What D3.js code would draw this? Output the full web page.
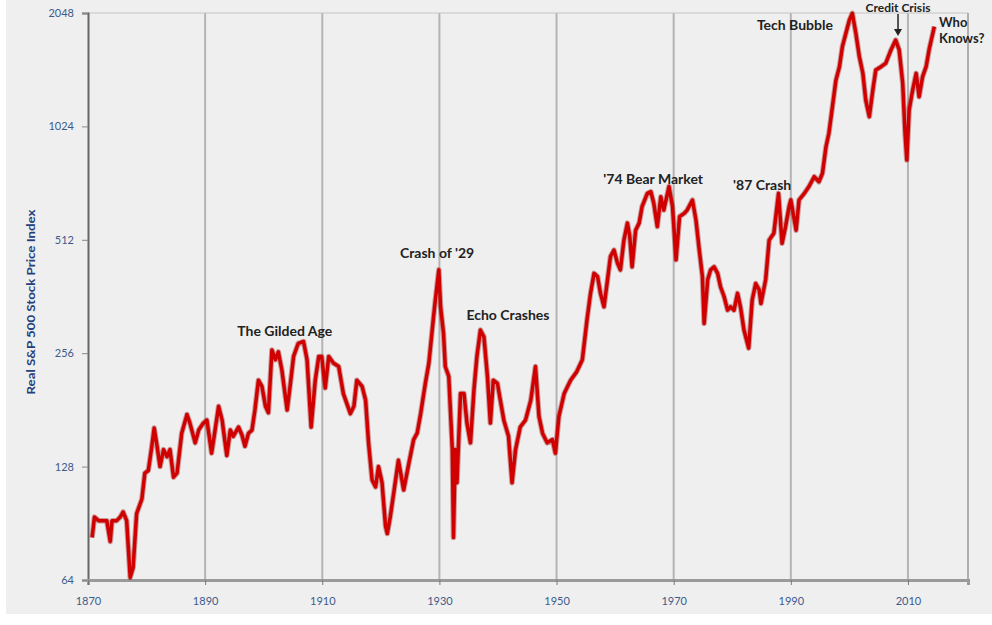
<!DOCTYPE html>
<html>
<head>
<meta charset="utf-8">
<script src="https://cdn.jsdelivr.net/npm/d3@7"></script>
<style>
  html, body { margin: 0; padding: 0; background: #ffffff; }
  svg { display: block; }
</style>
</head>
<body>
<svg id="chart" width="992" height="625"></svg>
<script>
// ---- data ----
const years = [
  1870.7,1871.1,1871.8,1872.6,1873.2,1873.8,1874.1,1874.9,1875.5,1876.0,1876.6,1877.2,1877.7,1878.3,1879.2,1879.7,
  1880.3,1880.9,1881.3,1881.7,1882.3,1882.9,1883.5,1884.0,1884.6,1885.2,1886.0,1886.9,1887.4,1888.3,1888.9,1889.7,
  1890.3,1891.1,1891.7,1892.3,1892.9,1893.7,1894.3,1894.8,1895.7,1896.3,1896.8,1897.4,1898.0,1898.5,1899.1,1899.7,
  1900.3,1900.8,1901.4,1902.0,1902.5,1903.1,1904.0,1904.5,1905.1,1905.9,1906.8,1907.4,1908.1,1908.8,1909.4,1909.9,
  1910.5,1911.1,1911.9,1912.8,1913.6,1914.8,1915.4,1915.9,1916.8,1917.4,1917.9,1918.5,1919.1,1919.6,1920.2,1920.8,
  1921.1,1921.6,1922.2,1923.0,1923.9,1924.8,1925.6,1926.2,1926.8,1927.6,1928.2,1929.0,1929.3,1929.9,1930.2,1930.7,
  1931.0,1931.6,1932.2,1932.4,1932.7,1933.0,1933.6,1934.2,1934.7,1935.3,1935.9,1936.4,1937.0,1937.6,1938.2,1938.7,
  1939.2,1939.9,1940.4,1941.0,1941.8,1942.4,1943.0,1943.8,1944.7,1945.6,1946.4,1947.0,1947.6,1948.4,1949.3,1949.8,
  1950.4,1951.3,1952.4,1953.4,1954.4,1955.2,1955.8,1956.4,1957.0,1957.5,1958.1,1958.7,1959.2,1959.8,1960.4,1960.9,
  1961.5,1962.1,1962.5,1962.9,1963.5,1964.1,1964.6,1965.5,1966.1,1966.6,1967.2,1967.8,1968.3,1969.2,1969.8,1970.4,
  1971.0,1971.8,1972.3,1973.2,1973.8,1974.3,1974.9,1975.2,1975.8,1976.3,1976.9,1977.5,1978.0,1978.6,1979.2,1979.7,
  1980.3,1980.9,1981.4,1982.0,1982.8,1983.4,1984.0,1984.6,1984.9,1985.7,1986.3,1987.1,1987.9,1988.5,1989.1,1989.7,
  1990.0,1990.9,1991.4,1992.3,1993.1,1994.0,1994.8,1995.4,1996.0,1996.5,1997.1,1997.7,1998.3,1998.8,1999.4,2000.0,
  2000.5,2001.1,2001.7,2002.3,2002.8,2003.4,2004.0,2004.5,2005.4,2006.2,2007.1,2007.9,2008.5,2009.1,2009.5,2009.8,
  2010.2,2010.8,2011.4,2011.9,2012.5,2013.1,2013.6,2014.5
];
const values = [
  83,94,92,92,92,81,92,92,94,97,92,65,69,96,105,123,
  125,145,162,148,128,142,136,142,120,123,157,176,167,148,160,167,
  170,139,160,185,170,137,160,154,163,155,145,157,160,181,217,209,
  185,178,261,246,258,231,181,209,251,272,275,246,163,217,251,251,
  207,251,241,236,200,177,185,217,209,192,148,118,113,128,116,89,
  85,94,109,133,111,131,151,157,177,213,241,320,354,426,340,289,
  236,222,142,83,142,116,200,200,167,148,205,251,295,283,222,167,
  217,213,192,170,154,116,142,163,170,192,236,174,157,148,151,139,
  174,200,217,228,246,314,369,417,409,369,340,401,462,481,444,426,
  511,567,522,434,543,567,627,680,687,640,555,666,614,709,627,453,
  590,602,614,653,578,491,409,307,401,426,434,417,384,362,333,340,
  333,369,340,295,264,354,392,377,347,401,511,533,680,501,555,627,
  653,543,653,680,709,753,730,769,904,982,1155,1359,1475,1667,1809,1962,
  2044,1809,1568,1416,1200,1087,1279,1445,1475,1506,1634,1736,1634,1333,982,834,
  1132,1279,1416,1228,1388,1475,1634,1884
];
const xTicks = [1870, 1890, 1910, 1930, 1950, 1970, 1990, 2010];
const yTicks = [64, 128, 256, 512, 1024, 2048];
const yTitle = "Real S&P 500 Stock Price Index";
const notes = [
  {text: "The Gilded Age", year: 1903.6, value: 284},
  {text: "Crash of '29", year: 1929.6, value: 458},
  {text: "Echo Crashes", year: 1941.7, value: 314},
  {text: "'74 Bear Market", year: 1966.5, value: 720},
  {text: "'87 Crash", year: 1985.1, value: 694},
  {text: "Tech Bubble", year: 1990.7, value: 1846}
];
const topNote = {text: "Credit Crisis", year: 2008.3, value: 2060};
const whoLines = ["Who", "Knows?"];

// ---- layout ----
const svg = d3.select("#chart");
const L = 88, R = 968, T = 13, B = 580;
const x = d3.scaleLinear().domain([1870, 2020.25]).range([L, R]);
const y = d3.scaleLog().base(2).domain([64, 2048]).range([B, T]);
const FONT = "Lato, 'Open Sans', sans-serif";

svg.append("rect").attr("x", 6).attr("y", 0).attr("width", 986).attr("height", 614)
  .attr("fill", "#efefef");

// vertical gridlines
svg.append("g").selectAll("line").data(xTicks.slice(1)).join("line")
  .attr("x1", d => x(d)).attr("x2", d => x(d)).attr("y1", T).attr("y2", B)
  .attr("stroke", "#b4b4b4").attr("stroke-width", 2);

// frame top and right
svg.append("line").attr("x1", L).attr("x2", R).attr("y1", T).attr("y2", T)
  .attr("stroke", "#c4c4c4").attr("stroke-width", 1);
svg.append("line").attr("x1", R).attr("x2", R).attr("y1", T).attr("y2", B)
  .attr("stroke", "#b0b0b0").attr("stroke-width", 2);

// y axis
const yAxis = svg.append("g").attr("transform", `translate(${L},0)`)
  .call(d3.axisLeft(y).tickValues(yTicks).tickFormat(d3.format("d")).tickSize(6).tickPadding(8));
yAxis.select(".domain").attr("stroke", "#666").attr("stroke-width", 2);
yAxis.selectAll(".tick line").attr("stroke", "#888");
yAxis.selectAll("text").attr("fill", "#3d5a8c").attr("font-family", FONT).attr("font-size", 11);

// x axis
const xAxis = svg.append("g").attr("transform", `translate(0,${B})`)
  .call(d3.axisBottom(x).tickValues(xTicks).tickFormat(d3.format("d")).tickSize(5).tickPadding(12));
xAxis.select(".domain").attr("stroke", "#9a9a9a").attr("stroke-width", 3);
xAxis.selectAll(".tick line").attr("stroke", "#777");
xAxis.selectAll("text").attr("fill", "#3d5a8c").attr("font-family", FONT).attr("font-size", 11);

// y title
svg.append("text").attr("transform", `translate(35,302) rotate(-90)`)
  .attr("text-anchor", "middle").attr("fill", "#24407a")
  .attr("font-family", FONT).attr("font-weight", "bold").attr("font-size", 12)
  .attr("textLength", 185).attr("lengthAdjust", "spacingAndGlyphs")
  .text(yTitle);

// series
const data = years.map((yr, i) => ({yr, v: values[i]}));
const line = d3.line().x(d => x(d.yr)).y(d => y(d.v));
svg.append("path").datum(data).attr("d", line).attr("fill", "none")
  .attr("stroke", "#8a0000").attr("stroke-opacity", 0.35).attr("stroke-width", 5.5)
  .attr("stroke-linejoin", "round");
svg.append("path").datum(data).attr("d", line).attr("fill", "none")
  .attr("stroke", "#d00000").attr("stroke-width", 3.5).attr("stroke-linejoin", "round");

// annotations
svg.append("g").selectAll("text").data(notes).join("text")
  .attr("x", d => x(d.year)).attr("y", d => y(d.value))
  .attr("text-anchor", "middle").attr("fill", "#222")
  .attr("font-family", FONT).attr("font-weight", "bold").attr("font-size", 14)
  .text(d => d.text);

svg.append("text").attr("x", x(topNote.year)).attr("y", y(topNote.value))
  .attr("text-anchor", "middle").attr("fill", "#222")
  .attr("font-family", FONT).attr("font-weight", "bold").attr("font-size", 12)
  .text(topNote.text);

// credit crisis arrow
const ax = x(topNote.year);
svg.append("line").attr("x1", ax).attr("x2", ax).attr("y1", 14).attr("y2", 31)
  .attr("stroke", "#222").attr("stroke-width", 1.5);
svg.append("path").attr("d", `M${ax - 4},29 L${ax + 4},29 L${ax},36 Z`).attr("fill", "#222");

// who knows
svg.append("text").attr("x", 939).attr("y", 27).attr("fill", "#222")
  .attr("font-family", FONT).attr("font-weight", "bold").attr("font-size", 13)
  .selectAll("tspan").data(whoLines).join("tspan")
  .attr("x", 939).attr("dy", (d, i) => i === 0 ? 0 : 16).text(d => d);
</script>
</body>
</html>
